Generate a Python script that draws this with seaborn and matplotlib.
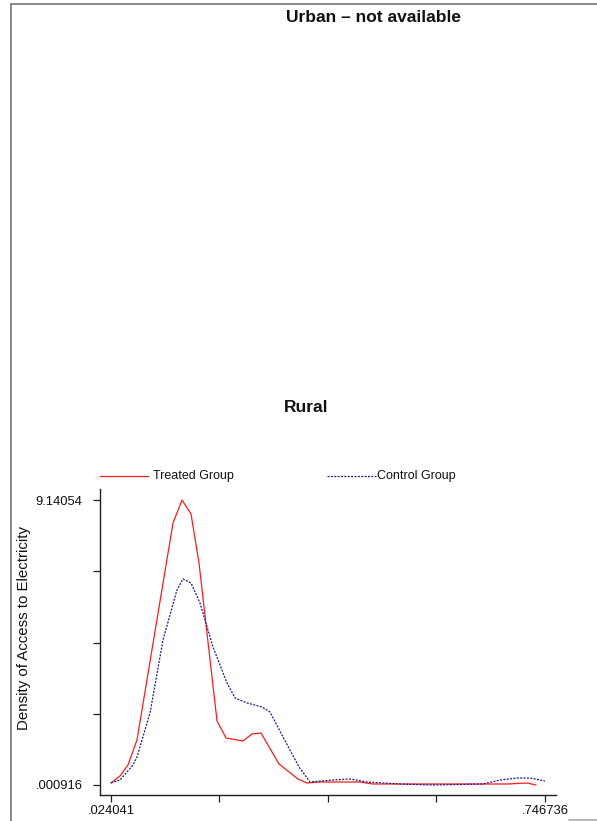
import matplotlib
matplotlib.use("Agg")
import matplotlib.pyplot as plt
from matplotlib.lines import Line2D
import pandas as pd
import seaborn as sns

# Kernel density estimates of access to electricity, rural sample
treated_x = [0.0240, 0.0390, 0.0523, 0.0673, 0.1273, 0.1423, 0.1573, 0.1706,
             0.2006, 0.2156, 0.2439, 0.2588, 0.2738, 0.3038, 0.3354, 0.3504,
             0.3721, 0.4387, 0.4603, 0.6835, 0.7168, 0.7318]
treated_y = [0.065, 0.290, 0.643, 1.445, 8.404, 9.14054, 8.692, 7.121,
             2.053, 1.508, 1.412, 1.637, 1.669, 0.674, 0.193, 0.065,
             0.097, 0.097, 0.033, 0.033, 0.065, 0.001]

control_x = [0.0240, 0.0390, 0.0607, 0.0673, 0.0890, 0.1106, 0.1339, 0.1439,
             0.1573, 0.1722, 0.1939, 0.2172, 0.2306, 0.2506, 0.2756, 0.2888,
             0.3105, 0.3372, 0.3555, 0.3938, 0.4221, 0.4504, 0.5053, 0.5603,
             0.6436, 0.6719, 0.7002, 0.7218, 0.746736]
control_y = [0.065, 0.161, 0.642, 0.899, 2.310, 4.651, 6.255, 6.608,
             6.479, 5.838, 4.427, 3.272, 2.791, 2.631, 2.503, 2.342,
             1.540, 0.578, 0.097, 0.161, 0.193, 0.097, 0.033, 0.000916,
             0.033, 0.161, 0.225, 0.225, 0.129]

groups = ["Treated Group", "Control Group"]
x_ticks = [0.024041, 0.204715, 0.385389, 0.566062, 0.746736]
x_ticklabels = [".024041", "", "", "", ".746736"]
y_ticks = [0.000916, 2.285822, 4.570728, 6.855634, 9.14054]
y_ticklabels = [".000916", "", "", "", "9.14054"]

df = pd.concat([
    pd.DataFrame({"x": treated_x, "y": treated_y, "group": groups[0]}),
    pd.DataFrame({"x": control_x, "y": control_y, "group": groups[1]}),
], ignore_index=True)

sns.set_theme(style="white")
plt.rcParams["font.family"] = ["Liberation Sans", "DejaVu Sans"]

W, H = 597, 821
fig = plt.figure(figsize=(W / 100, H / 100), dpi=100)
fig.patch.set_facecolor("white")

def fx(px):
    return px / W

def fy(py):
    return 1 - py / H

ax = fig.add_axes([fx(100), fy(795), fx(556) - fx(100), fy(489) - fy(795)])

palette = {"Treated Group": "#ff1a1a", "Control Group": "#1a1a90"}
dashes = {"Treated Group": "", "Control Group": (1.6, 1.1)}
sns.lineplot(data=df, x="x", y="y", hue="group", style="group",
             palette=palette, dashes=dashes, sort=False, estimator=None,
             linewidth=0.9, legend=False, ax=ax)

ax.set_xlim(0.00572, 0.7651)
ax.set_ylim(-0.3198, 9.494)
ax.set_xticks(x_ticks)
ax.set_xticklabels(x_ticklabels)
ax.set_yticks(y_ticks)
ax.set_yticklabels(y_ticklabels)
ax.set_xlabel("")
ax.set_ylabel("")
for side in ["top", "right"]:
    ax.spines[side].set_visible(False)
for side in ["left", "bottom"]:
    ax.spines[side].set_color("#222222")
    ax.spines[side].set_linewidth(1.0)
ax.tick_params(axis="both", which="both", direction="out", length=5,
               width=0.9, color="#222222", labelsize=9.4, labelcolor="#111111",
               left=True, bottom=True)
ax.tick_params(axis="y", pad=7.5)
ax.tick_params(axis="x", pad=2)
ax.set_facecolor("white")

# Axis title
fig.text(fx(24), fy(628), "Density of Access to Electricity", rotation=90,
         ha="center", va="center", fontsize=10.8, color="#111111")

# Panel titles
fig.text(fx(373), fy(17), "Urban \u2013 not available", ha="center",
         va="center", fontsize=12.5, fontweight="bold", color="#111111")
fig.text(fx(306), fy(407), "Rural", ha="center", va="center",
         fontsize=12.5, fontweight="bold", color="#111111")

# Legend keys
fig.add_artist(Line2D([fx(100), fx(148)], [fy(476), fy(476)],
                      color=palette[groups[0]], linewidth=0.9))
fig.text(fx(153), fy(476), groups[0], ha="left", va="center", fontsize=9,
         color="#111111")
fig.add_artist(Line2D([fx(327), fx(376)], [fy(476), fy(476)],
                      color=palette[groups[1]], linewidth=0.9,
                      dashes=(1.6, 1.1)))
fig.text(fx(377), fy(476), groups[1], ha="left", va="center", fontsize=9,
         color="#111111")

# Outer frame
fig.add_artist(Line2D([fx(11), fx(597)], [fy(4.5), fy(4.5)],
                      color="#777777", linewidth=1.2))
fig.add_artist(Line2D([fx(11), fx(11)], [fy(4.5), fy(821)],
                      color="#777777", linewidth=1.2))
fig.add_artist(Line2D([fx(569), fx(597)], [fy(820), fy(820)],
                      color="#aaaaaa", linewidth=1.2))

fig.savefig("out.png", dpi=100, facecolor="white")
